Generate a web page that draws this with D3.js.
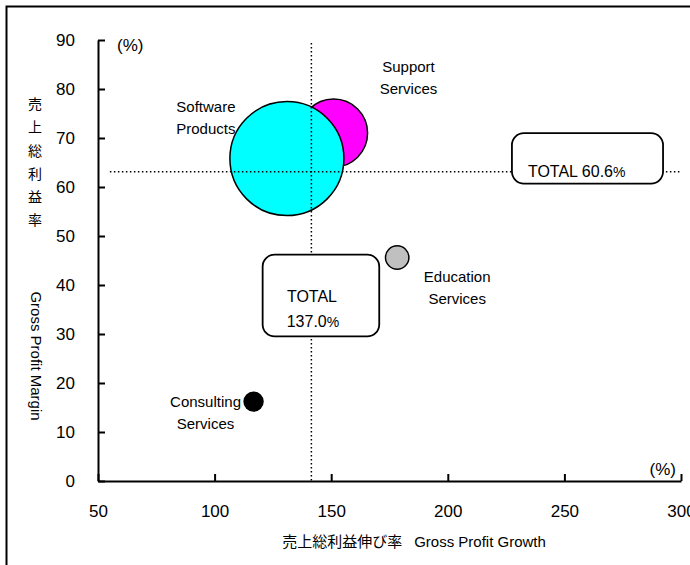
<!DOCTYPE html>
<html>
<head>
<meta charset="utf-8">
<script src="https://d3js.org/d3.v7.min.js"></script>
<style>
body { margin: 0; background: #fff; }
text { font-family: "Liberation Sans", Arial, sans-serif; fill: #000; }
.jp { font-family: "Noto Sans CJK JP", sans-serif; }
</style>
</head>
<body>
<svg id="myGraph" width="690" height="565"></svg>
<script>
// 데이터
var segments = [["Support", "Services"], ["Software", "Products"], ["Education", "Services"], ["Consulting", "Services"]];
var growth = [151, 131, 178.3, 116.7];		// 売上総利益伸び率 (%)
var margin = [71.0, 65.8, 45.6, 16.2];		// 売上総利益率 (%)
var grossProfit = [116, 325, 13.7, 9.0];	// 버블 크기
var xTicks = [50, 100, 150, 200, 250, 300];
var yTicks = [0, 10, 20, 30, 40, 50, 60, 70, 80, 90];
var totalMarginLabel = "60.6";
var totalGrowthLabel = "137.0";
var refGrowth = 141.5;	// 세로 점선 위치
var refMargin = 63.1;	// 가로 점선 위치

var fills = ["#ff00ff", "#00ffff", "#c0c0c0", "#000000"];
// 라벨 위치 (버블 중심에서의 px 오프셋)
var labelOffsets = [[75, -66], [-81, -52], [60, 19], [-48, 0]];

var svg = d3.select("#myGraph");
var x = d3.scaleLinear().domain([50, 300]).range([98, 681]);
var y = d3.scaleLinear().domain([0, 90]).range([481, 40]);
var r = d3.scaleSqrt().domain([0, 325]).range([0, 57]);

// 테두리
svg.append("rect")
	.attr("x", 6.5).attr("y", 6.5)
	.attr("width", 720).attr("height", 620)
	.attr("fill", "none").attr("stroke", "#000").attr("stroke-width", 2);

// 버블
svg.selectAll("circle.bubble")
	.data(growth)
	.enter()
	.append("circle")
	.attr("class", "bubble")
	.attr("cx", function(d, i){ return x(d); })
	.attr("cy", function(d, i){ return y(margin[i]); })
	.attr("r", function(d, i){ return r(grossProfit[i]); })
	.attr("fill", function(d, i){ return fills[i]; })
	.attr("stroke", "#000")
	.attr("stroke-width", 1.5);

// 점선 (TOTAL)
svg.append("line")
	.attr("x1", x(55.1)).attr("x2", x(299.6))
	.attr("y1", y(refMargin)).attr("y2", y(refMargin))
	.attr("stroke", "#000").attr("stroke-width", 1.5)
	.attr("stroke-dasharray", "1.5,2.5");
svg.append("line")
	.attr("x1", x(refGrowth)).attr("x2", x(refGrowth))
	.attr("y1", y(89.4)).attr("y2", y(0))
	.attr("stroke", "#000").attr("stroke-width", 1.5)
	.attr("stroke-dasharray", "1.5,2.5");

// TOTAL 박스
function drawBox(g0, g1, m0, m1){
	return svg.append("rect")
		.attr("x", x(g0)).attr("y", y(m0))
		.attr("width", x(g1) - x(g0)).attr("height", y(m1) - y(m0))
		.attr("rx", 12).attr("ry", 12)
		.attr("fill", "#fff").attr("stroke", "#000").attr("stroke-width", 1.8);
}
drawBox(227.5, 292.3, 71.0, 60.7);
var t1 = svg.append("text")
	.attr("x", x(227.5) + 16).attr("y", y(60.7) - 7)
	.attr("font-size", 16)
	.text("TOTAL " + totalMarginLabel);
t1.append("tspan").attr("font-size", 14).text("%");

drawBox(120.6, 170.6, 46.2, 29.5);
var cx2 = (x(120.6) + x(170.6)) / 2 - 9;
svg.append("text")
	.attr("x", cx2).attr("y", 302)
	.attr("text-anchor", "middle").attr("font-size", 16)
	.text("TOTAL");
var t2 = svg.append("text")
	.attr("x", cx2 + 1).attr("y", 327)
	.attr("text-anchor", "middle").attr("font-size", 16)
	.text(totalGrowthLabel);
t2.append("tspan").attr("font-size", 14).text("%");

// 버블 라벨
segments.forEach(function(lines, i){
	var px = x(growth[i]) + labelOffsets[i][0];
	var py = y(margin[i]) + labelOffsets[i][1];
	lines.forEach(function(s, k){
		svg.append("text")
			.attr("x", px).attr("y", py + k * 22)
			.attr("dy", "0.35em")
			.attr("text-anchor", "middle")
			.attr("font-size", 15)
			.text(s);
	});
});

// 눈금
function drawScale(){
	var yAxis = d3.axisLeft(y).tickValues(yTicks)
		.tickSizeInner(-7).tickSizeOuter(0).tickPadding(23);
	var gy = svg.append("g").attr("transform", "translate(" + x(50) + ",0)").call(yAxis);
	var xAxis = d3.axisBottom(x).tickValues(xTicks)
		.tickSizeInner(-7).tickSizeOuter(0).tickPadding(24);
	var gx = svg.append("g").attr("transform", "translate(0," + y(0) + ")").call(xAxis);
	[gx, gy].forEach(function(g){
		g.selectAll("path, line").attr("stroke", "#000").attr("stroke-width", 2);
		g.selectAll("text").attr("font-size", 17)
			.attr("font-family", "Liberation Sans, Arial, sans-serif").attr("fill", "#000");
	});
	svg.append("text").attr("x", 117).attr("y", 45).attr("dy", "0.35em")
		.attr("font-size", 17).text("(%)");
	svg.append("text").attr("x", 676).attr("y", 469).attr("dy", "0.35em")
		.attr("text-anchor", "end").attr("font-size", 17).text("(%)");
}
drawScale();

// 축 제목
svg.append("text")
	.attr("x", 414).attr("y", 547)
	.attr("text-anchor", "middle")
	.attr("font-size", 15)
	.call(function(t){
		t.append("tspan").attr("class", "jp").text("売上総利益伸び率");
		t.append("tspan").attr("dx", 12).text("Gross Profit Growth");
	});
"売上総利益率".split("").forEach(function(c, k){
	svg.append("text")
		.attr("class", "jp")
		.attr("x", 35).attr("y", 104 + k * 23.3)
		.attr("dy", "0.35em")
		.attr("text-anchor", "middle")
		.attr("font-size", 14)
		.text(c);
});
svg.append("text")
	.attr("transform", "translate(31,356) rotate(90)")
	.attr("text-anchor", "middle")
	.attr("font-size", 15)
	.text("Gross Profit Margin");
</script>
</body>
</html>
